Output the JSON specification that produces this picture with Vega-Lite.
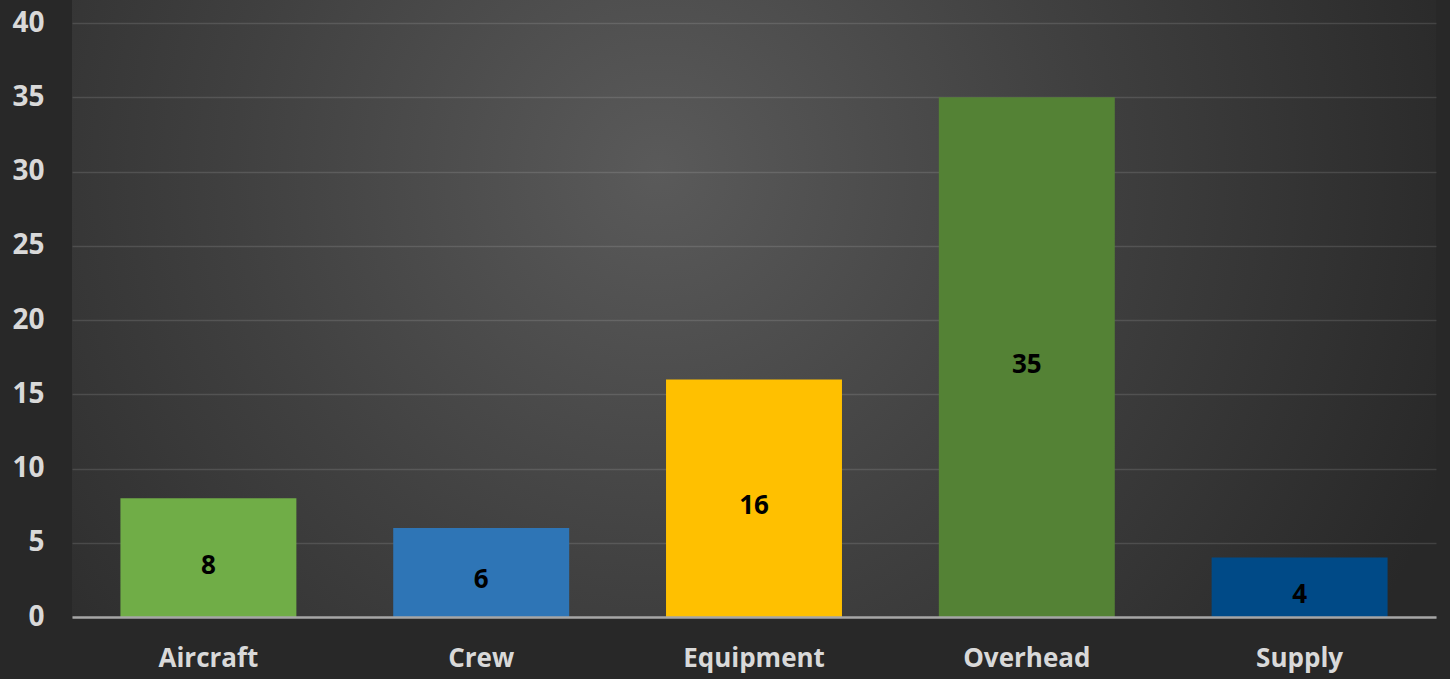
{
  "$schema": "https://vega.github.io/schema/vega-lite/v6.json",
  "width": 1364,
  "height": 617,
  "autosize": {"type": "none"},
  "padding": {"left": 72, "top": 0, "right": 14, "bottom": 62},
  "background": "#282828",
  "data": {
    "values": [
      {"category": "Aircraft", "value": 8},
      {"category": "Crew", "value": 6},
      {"category": "Equipment", "value": 16},
      {"category": "Overhead", "value": 35},
      {"category": "Supply", "value": 4}
    ]
  },
  "config": {
    "font": "Open Sans",
    "view": {
      "stroke": null,
      "fill": {
        "gradient": "radial",
        "x1": 0.43, "y1": 0.4, "r1": 0,
        "x2": 0.43, "y2": 0.4, "r2": 0.62,
        "stops": [
          {"offset": 0, "color": "#5a5a5a"},
          {"offset": 0.5, "color": "#404040"},
          {"offset": 1, "color": "#282828"}
        ]
      }
    }
  },
  "encoding": {
    "x": {
      "field": "category",
      "type": "nominal",
      "sort": null,
      "scale": {"paddingInner": 0.355, "paddingOuter": 0.1775},
      "axis": {
        "title": null,
        "labelAngle": 0,
        "labelFont": "Open Sans",
        "labelFontSize": 26,
        "labelFontWeight": "bold",
        "labelColor": "#d9d9d9",
        "labelPadding": 28,
        "ticks": false,
        "domain": true,
        "domainColor": "#a6a6a6",
        "domainWidth": 2.5,
        "grid": false,
        "zindex": 1
      }
    }
  },
  "layer": [
    {
      "mark": {"type": "bar"},
      "encoding": {
        "y": {
          "field": "value",
          "type": "quantitative",
          "scale": {"domain": [0, 41.55], "nice": false},
          "axis": {
            "title": null,
            "values": [0, 5, 10, 15, 20, 25, 30, 35, 40],
            "labelFont": "Open Sans",
            "labelFontSize": 28,
            "labelFontWeight": "bold",
            "labelColor": "#d9d9d9",
            "labelPadding": 28,
            "ticks": false,
            "domain": false,
            "grid": true,
            "gridColor": "#ffffff",
            "gridOpacity": 0.12,
            "gridWidth": 1.5
          }
        },
        "color": {
          "field": "category",
          "type": "nominal",
          "legend": null,
          "scale": {
            "domain": ["Aircraft", "Crew", "Equipment", "Overhead", "Supply"],
            "range": ["#70ad47", "#2e75b6", "#ffc000", "#548235", "#004a87"]
          }
        }
      }
    },
    {
      "mark": {
        "type": "text",
        "font": "Open Sans",
        "fontSize": 26,
        "fontWeight": "bold",
        "color": "#000000",
        "baseline": "middle",
        "dy": 8
      },
      "encoding": {
        "y": {
          "field": "value",
          "type": "quantitative",
          "scale": {"domain": [0, 83.1], "nice": false},
          "axis": null
        },
        "text": {"field": "value", "type": "quantitative"}
      }
    }
  ],
  "resolve": {"scale": {"y": "independent"}}
}
